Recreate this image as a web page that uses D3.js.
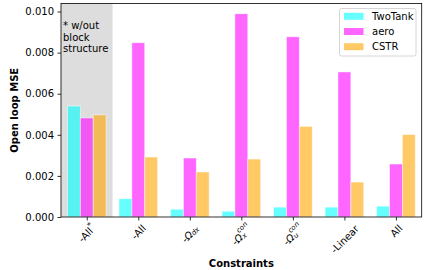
<!DOCTYPE html>
<html><head><meta charset="utf-8">
<script src="https://cdn.jsdelivr.net/npm/d3@7"></script>
<style>
body{margin:0;background:#fff;}
svg{display:block;font-family:"DejaVu Sans",sans-serif;}
</style></head>
<body><svg id="c" width="432" height="270"></svg>
<script>
const categories = ["-All*", "-All", "-Ωdx", "-Ωx^con", "-Ωu^con", "-Linear", "All"];
const seriesNames = ["TwoTank", "aero", "CSTR"];
const twoTank = [0.00540, 0.00089, 0.00038, 0.00028, 0.00048, 0.00048, 0.00053];
const aero    = [0.00482, 0.00848, 0.00287, 0.00989, 0.00877, 0.00706, 0.00258];
const cstr    = [0.00497, 0.00292, 0.00219, 0.00282, 0.00441, 0.00170, 0.00401];
const yTicks = [0, 0.002, 0.004, 0.006, 0.008, 0.010];
const colors = ["cyan", "magenta", "orange"];
const series = [twoTank, aero, cstr];

// label rich-text parts
const labelParts = [
  [["-All","n"],["*","sup"]],
  [["-All","n"]],
  [["-","n"],["Ω","i"],["dx","isub"]],
  [["-","n"],["Ω","i"],["con","isup"],["x","isub2"]],
  [["-","n"],["Ω","i"],["con","isup"],["u","isub2"]],
  [["-Linear","n"]],
  [["All","n"]]
];

const svg = d3.select("#c");
const L = 61, R = 421.7, T = 3.5, B = 217;
const x = d3.scaleLinear().domain([-0.5, 6.5]).range([L, R]);
const y = d3.scaleLinear().domain([0, 0.01039]).range([B, T]);
const bw = 0.25;

// gray span
svg.append("rect").attr("x", x(-0.5)).attr("y", T).attr("width", x(0.5)-x(-0.5)).attr("height", B-T).attr("fill", "#dddddd");

// bars
series.forEach((vals, s) => {
  svg.append("g").selectAll("rect").data(vals).join("rect")
    .attr("x", (d,i) => x(i + (s-1)*bw - bw/2))
    .attr("width", x(bw) - x(0))
    .attr("y", d => y(d))
    .attr("height", d => B - y(d))
    .attr("fill", colors[s]).attr("fill-opacity", 0.6)
    .attr("stroke", "#fff").attr("stroke-opacity", 0.6).attr("stroke-width", 0.8);
});

// annotation text
const ann = svg.append("text").attr("x", 63).attr("font-size", 10).attr("fill", "#000");
["* w/out","block","structure"].forEach((t,i)=>{
  ann.append("tspan").attr("x", 63).attr("y", 29 + i*11.5).text(t);
});

// y axis
const yAxis = d3.axisLeft(y).tickValues(yTicks).tickFormat(d3.format(".3f")).tickSize(3.5).tickPadding(3.5);
const gy = svg.append("g").attr("transform", `translate(${L},0)`).call(yAxis);
gy.select(".domain").remove();
gy.selectAll("text").attr("font-size", 10).attr("font-family", "DejaVu Sans").attr("fill","#000");
gy.selectAll("line").attr("stroke","#000").attr("stroke-width",0.8);

// x axis ticks
const xAxis = d3.axisBottom(x).tickValues(d3.range(categories.length)).tickSize(3.5).tickFormat("");
const gx = svg.append("g").attr("transform", `translate(0,${B})`).call(xAxis);
gx.select(".domain").remove();
gx.selectAll("line").attr("stroke","#000").attr("stroke-width",0.8);

// x tick labels, rotated 45, centered
categories.forEach((c, i) => {
  const g = svg.append("g");
  const t = g.append("text").attr("font-size", 10).attr("fill", "#000")
    .attr("text-anchor", "middle").attr("dominant-baseline", "central");
  let lastW = 0;
  labelParts[i].forEach(([txt, st]) => {
    const ts = t.append("tspan").text(txt);
    if (st === "i") ts.attr("font-style", "italic");
    if (st === "sup") ts.attr("font-size", 8).attr("dy", -4);
    if (st === "isub") ts.attr("font-style","italic").attr("font-size", 7).attr("dy", 2.5);
    if (st === "isup") { ts.attr("font-style","italic").attr("font-size", 7).attr("dy", -4.5); lastW = ts.node().getComputedTextLength(); }
    if (st === "isub2") ts.attr("font-style","italic").attr("font-size", 7).attr("dy", 7.5).attr("dx", -lastW);
  });
  const w = t.node().getBBox().width;
  const h = 12;
  const bh = (w + h) / Math.SQRT2;
  g.attr("transform", `translate(${x(i)},${B + 5 + bh/2}) rotate(-45)`);
});

// spines
svg.append("rect").attr("x", L).attr("y", T).attr("width", R-L).attr("height", B-T)
  .attr("fill","none").attr("stroke","#000").attr("stroke-width",0.8);

// axis labels
svg.append("text").attr("x", (L+R)/2).attr("y", 267).attr("text-anchor","middle")
  .attr("font-size",10).attr("font-weight","bold").text("Constraints");
svg.append("text").attr("transform", `translate(18,${(T+B)/2}) rotate(-90)`).attr("text-anchor","middle")
  .attr("font-size",10).attr("font-weight","bold").text("Open loop MSE");

// legend
const lg = svg.append("g");
lg.append("rect").attr("x",339.5).attr("y",8.5).attr("width",76.5).attr("height",47.5).attr("rx",2)
  .attr("fill","#fff").attr("fill-opacity",0.8).attr("stroke","#cccccc").attr("stroke-width",0.8);
seriesNames.forEach((n, s) => {
  const cy = 16.3 + s*15.2;
  lg.append("rect").attr("x",344).attr("y",cy-3.5).attr("width",19.5).attr("height",7)
    .attr("fill",colors[s]).attr("fill-opacity",0.6);
  lg.append("text").attr("x",372).attr("y",cy).attr("dominant-baseline","central")
    .attr("font-size",10).text(n);
});
</script></body></html>
